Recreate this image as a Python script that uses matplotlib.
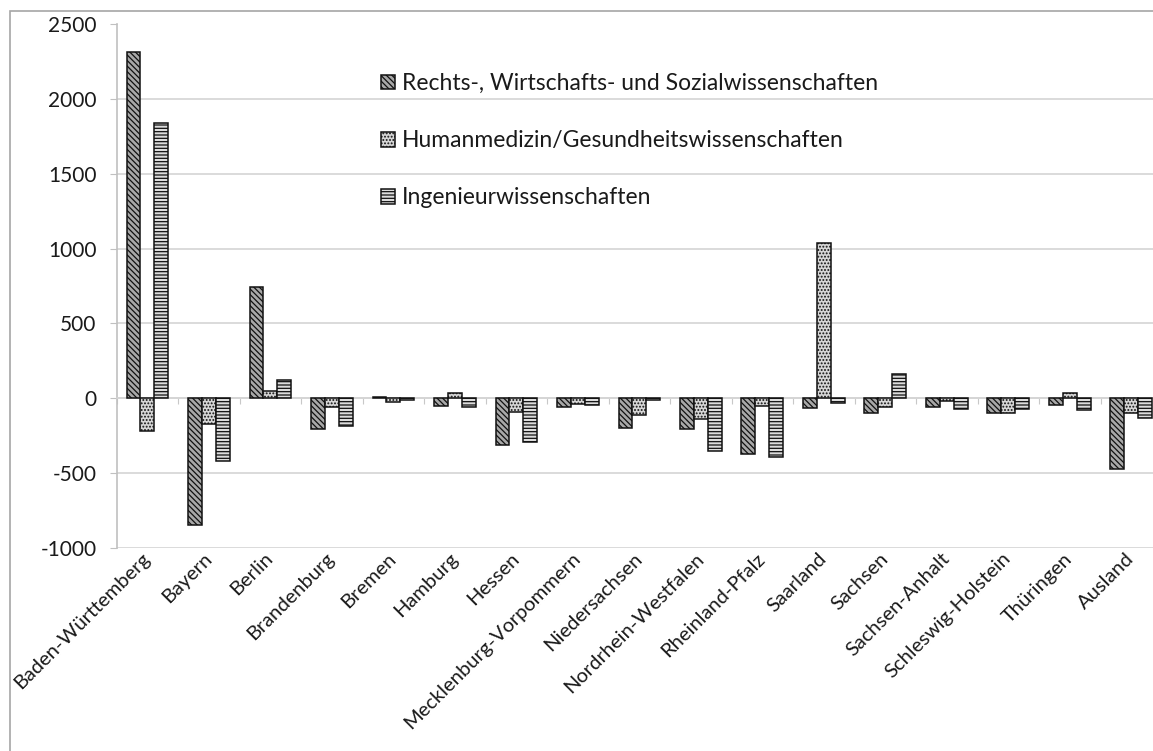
import numpy as np
import matplotlib.pyplot as plt
from matplotlib.patches import Rectangle

plt.rcParams['font.family'] = ['Lato', 'DejaVu Sans']
plt.rcParams['hatch.linewidth'] = 0.9
plt.rcParams['axes.unicode_minus'] = False

# --- data ---
states = ["Baden-Württemberg", "Bayern", "Berlin", "Brandenburg", "Bremen",
          "Hamburg", "Hessen", "Mecklenburg-Vorpommern", "Niedersachsen",
          "Nordrhein-Westfalen", "Rheinland-Pfalz", "Saarland", "Sachsen",
          "Sachsen-Anhalt", "Schleswig-Holstein", "Thüringen", "Ausland"]
series_names = ["Rechts-, Wirtschafts- und Sozialwissenschaften",
                "Humanmedizin/Gesundheitswissenschaften",
                "Ingenieurwissenschaften"]
rechts = [2314, -847, 743, -204, 10, -55, -317, -60, -201, -205, -377, -65,
          -103, -62, -103, -49, -478]
human = [-221, -175, 46, -60, -25, 31, -94, -38, -112, -138, -56, 1040,
         -58, -20, -103, 36, -99]
ingenieur = [1839, -424, 120, -185, -12, -58, -292, -49, -16, -355, -395, -31,
             158, -76, -76, -79, -133]
yticks = [-1000, -500, 0, 500, 1000, 1500, 2000, 2500]

W, H = 1153, 751
fig = plt.figure(figsize=(W / 100, H / 100), dpi=100)
# plot area in pixels (the source chart is cropped on the right)
left, right, top, bottom = 116.7, 1162, 24.5, 547.5
ax = fig.add_axes([left / W, 1 - bottom / H, (right - left) / W, (bottom - top) / H])

x = np.arange(len(states))
bw = 0.226
styles = [dict(facecolor="#a8a8a8", hatch="\\\\\\\\\\\\"),
          dict(facecolor="#d6d6d6", hatch="....."),
          dict(facecolor="#dcdcdc", hatch="-----")]
for i, (vals, st) in enumerate(zip([rechts, human, ingenieur], styles)):
    ax.bar(x + (i - 1) * bw, vals, bw, edgecolor="#111111", linewidth=1.1,
           label=series_names[i], zorder=3, **st)

ax.set_xlim(-0.5, len(states) - 0.5)
ax.set_ylim(-1000, 2500)
ax.set_yticks(yticks)
ax.yaxis.grid(True, color="#d4d4d4", linewidth=1.2, zorder=0)
ax.tick_params(axis="y", length=5, color="#c0c0c0", pad=9.5, labelsize=15,
               labelcolor="#1a1a1a")

for s in ["top", "right"]:
    ax.spines[s].set_visible(False)
ax.spines["left"].set_color("#c0c0c0")
ax.spines["left"].set_linewidth(1.2)
ax.spines["bottom"].set_position(("data", 0))
ax.spines["bottom"].set_color("#d4d4d4")
ax.spines["bottom"].set_linewidth(1.2)
ax.set_xticks(np.arange(len(states) + 1) - 0.5)
ax.tick_params(axis="x", length=4.5, color="#c8c8c8", labelbottom=False)

sec = ax.secondary_xaxis("bottom")
sec.set_xticks(x, labels=states)
sec.tick_params(length=0, pad=6, labelsize=14.5, labelcolor="#1a1a1a")
sec.spines["bottom"].set_visible(False)
for lab in sec.get_xticklabels():
    lab.set_rotation(45)
    lab.set_ha("right")
    lab.set_va("center")
    lab.set_rotation_mode("anchor")

ax.legend(loc="upper left", bbox_to_anchor=(381 / W, 1 - 73 / H),
          bbox_transform=fig.transFigure, frameon=False, fontsize=16.5,
          handlelength=0.62, handleheight=0.62, handletextpad=0.3,
          labelspacing=1.58, borderpad=0, borderaxespad=0,
          labelcolor="#1a1a1a")

# outer chart border
fig.patches.append(Rectangle((10 / W, -0.1), 1.1, 1.1 - 11 / H, fill=False,
                             edgecolor="#a6a6a6", linewidth=1.2,
                             transform=fig.transFigure))

fig.savefig("out.png", dpi=100)
